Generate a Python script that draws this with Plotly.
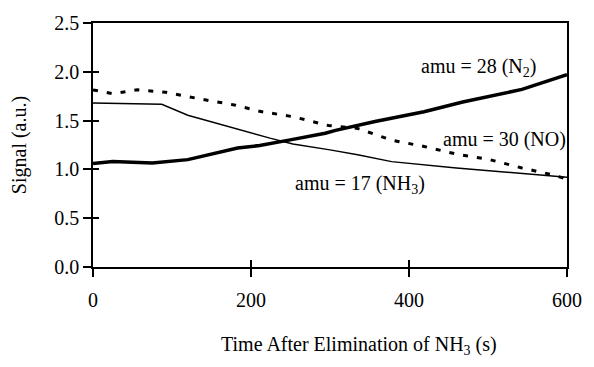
import plotly.graph_objects as go

# Data
t_n2 = [0, 25, 75, 120, 183, 211, 248, 294, 307, 357, 419, 468, 543, 600]
n2 = [1.06, 1.08, 1.066, 1.10, 1.22, 1.245, 1.30, 1.37, 1.40, 1.49, 1.59, 1.69, 1.82, 1.97]

t_nh3 = [0, 87, 120, 179, 224, 253, 282, 300, 335, 378, 460, 543, 600]
nh3 = [1.68, 1.667, 1.555, 1.42, 1.32, 1.26, 1.225, 1.20, 1.15, 1.08, 1.015, 0.955, 0.92]

t_no = [0, 25, 56, 92, 137, 179, 211, 253, 298, 335, 378, 419, 460, 502, 543, 584, 600]
no = [1.815, 1.775, 1.815, 1.79, 1.72, 1.66, 1.595, 1.54, 1.45, 1.42, 1.30, 1.235, 1.157, 1.10, 1.015, 0.94, 0.90]

label_text = ["amu = 28 (N<sub>2</sub>)", "amu = 30 (NO)", "amu = 17 (NH<sub>3</sub>)"]
label_x = [489, 521, 338]
label_y = [2.04, 1.305, 0.85]

x_ticks = [0, 200, 400, 600]
y_ticks = [0.0, 0.5, 1.0, 1.5, 2.0, 2.5]

FONT = "Liberation Serif"
FS = 20

fig = go.Figure()
fig.add_trace(go.Scatter(x=t_nh3, y=nh3, mode="lines",
                         line=dict(color="black", width=1.4)))
fig.add_trace(go.Scatter(x=t_no, y=no, mode="lines",
                         line=dict(color="black", width=3, dash="5px,9px")))
fig.add_trace(go.Scatter(x=t_n2, y=n2, mode="lines",
                         line=dict(color="black", width=3.5)))

for txt, lx, ly in zip(label_text, label_x, label_y):
    fig.add_annotation(x=lx, y=ly, text=txt, showarrow=False,
                       font=dict(family=FONT, size=FS, color="black"))

fig.add_annotation(x=0.561, y=0, xref="paper", yref="paper", yshift=-78,
                   yanchor="middle",
                   text="Time After Elimination of NH<sub>3</sub> (s)",
                   showarrow=False, font=dict(family=FONT, size=FS, color="black"))

common = dict(showgrid=False, zeroline=False, tickcolor="black", tickwidth=1.5)

fig.update_layout(
    width=594, height=367,
    margin=dict(l=93, r=18, t=20, b=100),
    plot_bgcolor="white", paper_bgcolor="white",
    showlegend=False,
    font=dict(family=FONT, size=FS, color="black"),
    xaxis=dict(range=[0, 600], tickvals=x_ticks, ticktext=[str(v) for v in x_ticks],
               ticks="outside", ticklen=8, mirror=True, showline=True,
               linecolor="black", linewidth=1.5, ticklabelstandoff=6,
               tickfont=dict(family=FONT, size=FS), **common),
    yaxis=dict(range=[0, 2.5], tickvals=y_ticks, ticktext=[f"{v:.1f}" for v in y_ticks],
               ticks="outside", ticklen=8, mirror=True, showline=True,
               linecolor="black", linewidth=1.5,
               tickfont=dict(family=FONT, size=FS),
               title=dict(text="Signal (a.u.)", standoff=22, font=dict(family=FONT, size=FS)),
               **common),
    xaxis2=dict(range=[0, 600], tickvals=x_ticks, overlaying="x", side="bottom",
                ticks="inside", ticklen=7, showticklabels=False, showline=False, **common),
    yaxis2=dict(range=[0, 2.5], tickvals=y_ticks, overlaying="y", side="left",
                ticks="inside", ticklen=6, showticklabels=False, showline=False, **common),
)
# invisible trace to anchor the overlay axes
fig.add_trace(go.Scatter(x=[0], y=[0], xaxis="x2", yaxis="y2", mode="markers",
                         marker=dict(opacity=0), hoverinfo="skip"))

fig.write_html("out.html")
